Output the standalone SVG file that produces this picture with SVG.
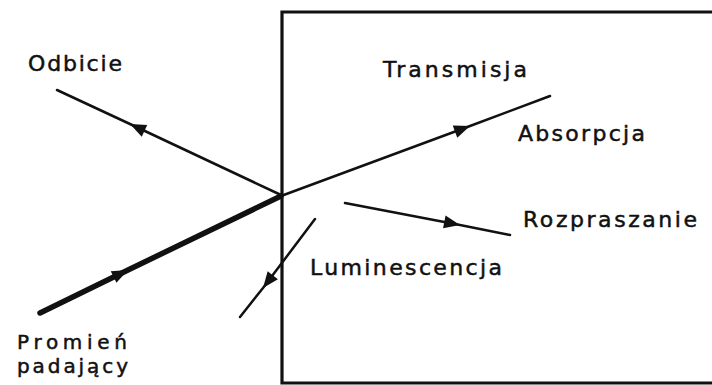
<svg xmlns="http://www.w3.org/2000/svg" width="712" height="385" viewBox="0 0 712 385">
<style>
.lbl{font-family:"DejaVu Sans","Liberation Sans",sans-serif;font-size:22px;fill:#111;stroke:#111;stroke-width:0.5}
.sm{font-size:20px}
.ray{fill:none;stroke:#111;stroke-width:2.5;stroke-linecap:round;marker-mid:url(#ah)}
.box{fill:none;stroke:#111;stroke-width:3.2}
</style>
<defs>
<marker id="ah" markerUnits="userSpaceOnUse" markerWidth="20" markerHeight="16" viewBox="-17 -8 19 16" refX="0" refY="0" orient="auto">
<path d="M0,0 L-16,-6.5 L-16,6.5 z" fill="#111"/>
</marker>
</defs>
<rect width="712" height="385" fill="#fff"/>
<g id="medium"><path class="box" d="M720,12 L282,12 L282,383 L720,383"/></g>
<g id="connectors">
<path class="ray" style="stroke-width:5.5" d="M40,313 L128,270 L281,196"/>
<path class="ray" d="M281,195 L130,124 L57,90"/>
<path class="ray" d="M281,196 L470,126 L550,96"/>
<path class="ray" d="M345,203 L460,225 L510,235"/>
<path class="ray" d="M315,219 L263,288 L240,317"/>
</g>
<g id="odbicie"><text class="lbl" x="28" y="71" textLength="94" lengthAdjust="spacing">Odbicie</text></g>
<g id="transmisja"><text class="lbl" x="383" y="77" textLength="144" lengthAdjust="spacing">Transmisja</text></g>
<g id="absorpcja"><text class="lbl" x="518" y="141" textLength="127" lengthAdjust="spacing">Absorpcja</text></g>
<g id="rozpraszanie"><text class="lbl" x="523" y="227" textLength="174" lengthAdjust="spacing">Rozpraszanie</text></g>
<g id="luminescencja"><text class="lbl" x="310" y="275" textLength="192" lengthAdjust="spacing">Luminescencja</text></g>
<g id="promien"><text class="lbl sm" x="17" y="349" textLength="110" lengthAdjust="spacing">Promień</text><text class="lbl sm" x="17" y="373" textLength="111" lengthAdjust="spacing">padający</text></g>
</svg>
